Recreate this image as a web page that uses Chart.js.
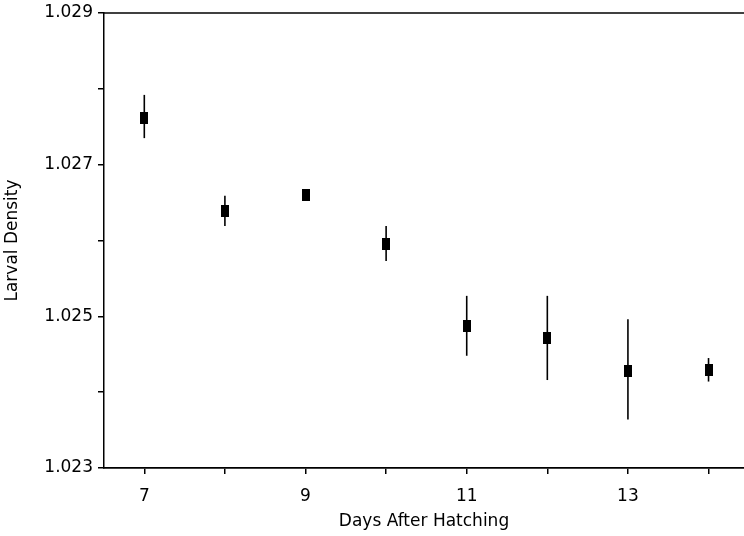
<!DOCTYPE html>
<html>
<head>
<meta charset="utf-8">
<script src="https://cdn.jsdelivr.net/npm/chart.js@4/dist/chart.umd.min.js"></script>
<style>
  html, body { margin: 0; padding: 0; background: #fff; }
  #wrap { width: 744px; height: 536px; }
</style>
</head>
<body>
<div id="wrap"><canvas id="chart" width="744" height="536"></canvas></div>
<script>
// days after hatching and mean larval density
var days = [7, 8, 9, 10, 11, 12, 13, 14];
var density = [1.02762, 1.02639, 1.02660, 1.02595, 1.02487, 1.02472, 1.02428, 1.02429];
// top and bottom of each error bar
var errHigh = [1.02792, 1.02659, 1.02665, 1.02619, 1.02527, 1.02527, 1.02496, 1.02445];
var errLow = [1.02735, 1.02619, 1.02655, 1.02573, 1.02448, 1.02416, 1.02364, 1.02414];
var xTicks = [7, 8, 9, 10, 11, 12, 13, 14];
var yTicks = [1.023, 1.024, 1.025, 1.026, 1.027, 1.028, 1.029];

var FONT = "'DejaVu Sans', sans-serif";

// little black box used as the marker
var marker = document.createElement('canvas');
marker.width = 8;
marker.height = 12;
var mctx = marker.getContext('2d');
mctx.fillStyle = '#000';
mctx.fillRect(0, 0, 8, 12);

var errorBars = {
    id: 'errorBars',
    beforeDatasetsDraw: function (chart) {
        var ctx = chart.ctx;
        var xs = chart.scales.x, ys = chart.scales.y;
        ctx.save();
        ctx.strokeStyle = '#000';
        ctx.lineWidth = 1.6;
        for (var i = 0; i < days.length; i++) {
            var px = xs.getPixelForValue(days[i]);
            ctx.beginPath();
            ctx.moveTo(px, ys.getPixelForValue(errHigh[i]));
            ctx.lineTo(px, ys.getPixelForValue(errLow[i]));
            ctx.stroke();
        }
        // top frame line
        var a = chart.chartArea;
        ctx.lineWidth = 1.5;
        ctx.beginPath();
        ctx.moveTo(a.left, a.top);
        ctx.lineTo(a.right, a.top);
        ctx.stroke();
        ctx.restore();
    }
};

var points = days.map(function (d, i) { return { x: d, y: density[i] }; });

new Chart(document.getElementById('chart'), {
    type: 'scatter',
    data: {
        datasets: [{
            data: points,
            pointStyle: marker,
            pointRadius: 6,
            pointHoverRadius: 6
        }]
    },
    options: {
        responsive: false,
        animation: false,
        layout: { autoPadding: false, padding: { top: 13, right: 0, left: 0, bottom: 0 } },
        plugins: {
            legend: { display: false },
            tooltip: { enabled: false }
        },
        scales: {
            x: {
                type: 'linear',
                min: 6.5,
                max: 14.44,
                afterBuildTicks: function (scale) {
                    scale.ticks = xTicks.map(function (v) { return { value: v }; });
                },
                afterFit: function (scale) { scale.height = 68; },
                grid: { drawOnChartArea: false, drawTicks: true, tickLength: 6, color: '#000', lineWidth: 1.5 },
                border: { display: true, color: '#000', width: 1.8 },
                ticks: {
                    color: '#000',
                    padding: 12,
                    maxRotation: 0,
                    autoSkip: false,
                    font: { family: FONT, size: 17 },
                    callback: function (v) { return v % 2 === 1 ? String(v) : ''; }
                },
                title: {
                    display: true,
                    text: 'Days After Hatching',
                    color: '#000',
                    padding: { top: 0 },
                    font: { family: FONT, size: 17 }
                }
            },
            y: {
                min: 1.023,
                max: 1.029,
                afterBuildTicks: function (scale) {
                    scale.ticks = yTicks.map(function (v) { return { value: v }; });
                },
                afterFit: function (scale) {
                    scale.width = 104;
                    scale.paddingTop = 0;
                    scale.paddingBottom = 0;
                },
                grid: { drawOnChartArea: false, drawTicks: true, tickLength: 6, color: '#000', lineWidth: 1.5 },
                border: { display: true, color: '#000', width: 1.5 },
                ticks: {
                    color: '#000',
                    padding: 5,
                    autoSkip: false,
                    font: { family: FONT, size: 17 },
                    callback: function (v) {
                        return Math.round(v * 1000) % 2 === 1 ? v.toFixed(3) : '';
                    }
                },
                title: {
                    display: true,
                    text: 'Larval Density',
                    color: '#000',
                    padding: { top: 2, bottom: 0 },
                    font: { family: FONT, size: 17 }
                }
            }
        }
    },
    plugins: [errorBars]
});
</script>
</body>
</html>
